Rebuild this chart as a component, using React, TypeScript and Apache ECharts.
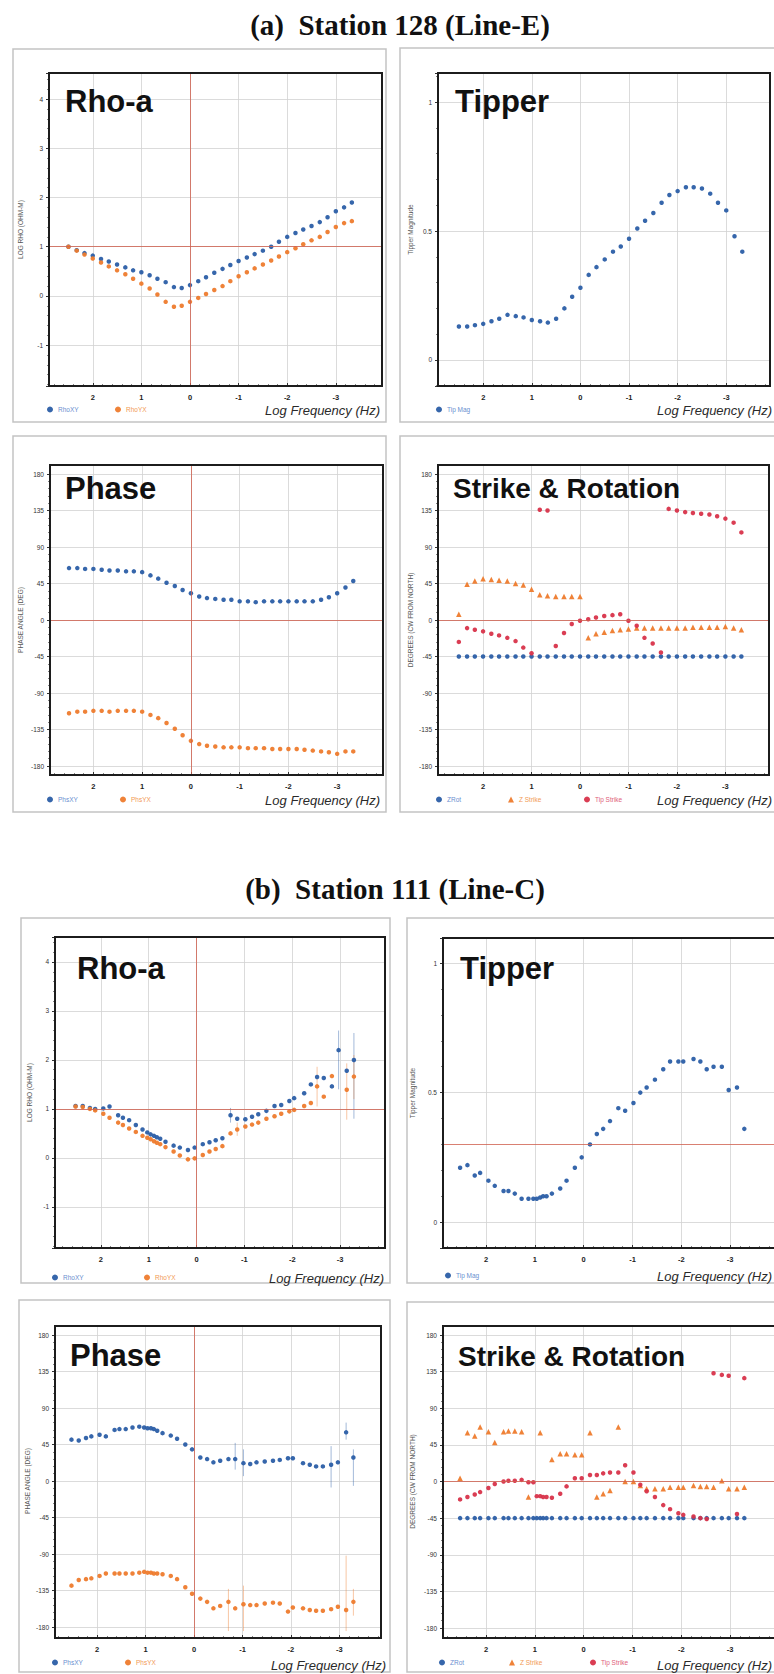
import React, { useEffect, useRef } from "react";
import * as echarts from "echarts";

const W = 774;
const H = 1674;

// ---------- Station 128 (Line-E) ----------
const logFreqA = [2.5, 2.33, 2.17, 2.0, 1.83, 1.67, 1.5, 1.33, 1.17, 1.0, 0.83, 0.67, 0.5, 0.33, 0.17, 0, -0.17, -0.33, -0.5, -0.67, -0.83, -1.0, -1.17, -1.33, -1.5, -1.67, -1.83, -2.0, -2.17, -2.33, -2.5, -2.67, -2.83, -3.0, -3.17, -3.33];
const rhoXY_A = [1.0, 0.93, 0.87, 0.82, 0.75, 0.7, 0.64, 0.58, 0.52, 0.48, 0.42, 0.35, 0.28, 0.18, 0.16, 0.22, 0.3, 0.38, 0.47, 0.55, 0.63, 0.71, 0.78, 0.85, 0.92, 1.0, 1.1, 1.2, 1.28, 1.35, 1.42, 1.5, 1.6, 1.72, 1.8, 1.9];
const rhoYX_A = [1.0, 0.92, 0.84, 0.76, 0.68, 0.6, 0.52, 0.44, 0.35, 0.25, 0.15, 0.03, -0.12, -0.22, -0.2, -0.12, -0.04, 0.04, 0.12, 0.2, 0.3, 0.4, 0.48, 0.56, 0.64, 0.72, 0.8, 0.89, 0.97, 1.05, 1.13, 1.2, 1.3, 1.4, 1.48, 1.52];
const tipMag_A = [0.13, 0.13, 0.135, 0.14, 0.15, 0.16, 0.175, 0.17, 0.165, 0.155, 0.15, 0.145, 0.16, 0.2, 0.245, 0.28, 0.33, 0.36, 0.39, 0.42, 0.44, 0.47, 0.51, 0.54, 0.57, 0.61, 0.64, 0.655, 0.67, 0.67, 0.665, 0.645, 0.61, 0.58, 0.48, 0.42];
const phsXY_A = [64, 64, 63, 63, 62, 61, 61, 60, 60, 59, 55, 51, 46, 42, 37, 33, 29, 27, 26, 25, 25, 23, 23, 22, 23, 23, 23, 23, 23, 23, 23, 25, 28, 33, 40, 48];
const phsYX_A = [-115, -113, -113, -112, -112, -113, -112, -112, -112, -113, -117, -121, -127, -134, -142, -149, -153, -155, -156, -157, -157, -157, -158, -158, -158, -159, -159, -159, -159, -160, -161, -162, -163, -165, -162, -162];
const zRot_A = [-45, -45, -45, -45, -45, -45, -45, -45, -45, -45, -45, -45, -45, -45, -45, -45, -45, -45, -45, -45, -45, -45, -45, -45, -45, -45, -45, -45, -45, -45, -45, -45, -45, -45, -45, -45];
const zStrike_A = [7, 44, 48, 51, 50, 49, 48, 45, 43, 38, 31, 30, 29, 29, 29, 29, -22, -17, -15, -13, -12, -11, -10, -10, -10, -10, -10, -10, -10, -9, -9, -9, -9, -8, -10, -12];
const tipStrike_A = [-27, -10, -12, -14, -17, -19, -22, -26, -34, -41, 136, 135, -32, -16, -5, -1, 1, 3, 5, 6, 7, -1, -7, -22, -29, -40, 137, 135, 133, 132, 131, 130, 128, 125, 120, 108];

// ---------- Station 111 (Line-C) ----------
const logFreqB = [2.53, 2.38, 2.23, 2.12, 1.95, 1.82, 1.64, 1.54, 1.41, 1.27, 1.13, 1.03, 0.96, 0.89, 0.83, 0.76, 0.65, 0.48, 0.35, 0.18, 0.04, -0.13, -0.27, -0.4, -0.54, -0.71, -0.85, -1.02, -1.16, -1.29, -1.46, -1.63, -1.77, -1.94, -2.04, -2.25, -2.39, -2.52, -2.66, -2.83, -2.97, -3.14, -3.29];
const rhoXY_B = [1.06, 1.06, 1.02, 1.0, 1.01, 1.05, 0.87, 0.82, 0.77, 0.67, 0.58, 0.52, 0.48, 0.45, 0.42, 0.39, 0.33, 0.25, 0.21, 0.16, 0.21, 0.28, 0.32, 0.36, 0.4, 0.87, 0.8, 0.79, 0.84, 0.89, 0.96, 1.06, 1.08, 1.16, 1.22, 1.32, 1.5, 1.65, 1.63, 1.46, 2.2, 1.78, 2.0];
const rhoYX_B = [1.05, 1.04, 1.0, 0.97, 0.9, 0.82, 0.72, 0.67, 0.6, 0.53, 0.45, 0.41, 0.38, 0.34, 0.31, 0.28, 0.22, 0.13, 0.05, -0.03, -0.01, 0.06, 0.13, 0.18, 0.24, 0.5, 0.58, 0.64, 0.68, 0.72, 0.8, 0.85, 0.9, 0.95, 0.98, 1.06, 1.12, 1.46, 1.25, 1.67, null, 1.39, 1.66];
const tipMag_B = [0.21, 0.22, 0.18, 0.19, 0.16, 0.14, 0.12, 0.12, 0.11, 0.09, 0.09, 0.09, 0.09, 0.095, 0.1, 0.1, 0.11, 0.13, 0.16, 0.21, 0.25, 0.3, 0.34, 0.36, 0.39, 0.44, 0.43, 0.46, 0.5, 0.52, 0.55, 0.59, 0.62, 0.62, 0.62, 0.63, 0.62, 0.59, 0.6, 0.6, 0.51, 0.52, 0.36];
const phsXY_B = [51, 50, 53, 55, 57, 55, 63, 64, 64, 66, 67, 66, 65, 65, 64, 62, 59, 56, 52, 45, 39, 29, 27, 23, 25, 27, 27, 22, 21, 23, 24, 25, 26, 28, 28, 22, 20, 18, 18, 20, 23, 60, 29];
const phsYX_B = [-129, -122, -121, -120, -117, -114, -114, -114, -114, -114, -113, -112, -113, -113, -114, -114, -115, -117, -121, -131, -139, -145, -149, -157, -154, -149, -157, -152, -153, -153, -151, -150, -151, -161, -156, -157, -159, -160, -160, -158, -155, -159, -149];
const zRot_B = [-45, -45, -45, -45, -45, -45, -45, -45, -45, -45, -45, -45, -45, -45, -45, -45, -45, -45, -45, -45, -45, -45, -45, -45, -45, -45, -45, -45, -45, -45, -45, -45, -45, -45, -45, -45, -45, -45, -45, -45, -45, -45, -45];
const zStrike_B = [4, 60, 56, 67, 61, 48, 61, 62, 62, 61, -19, null, null, 60, null, null, 27, 34, 34, 33, 33, 60, -19, -15, -11, 67, 0, 0, -5, -9, -9, -9, -7, -7, -7, -5, -6, -6, -7, 1, -9, -9, -7];
const tipStrike_B = [-22, -19, -16, -13, -8, -3, 0, 1, 1, 2, -1, -1, -18, -18, -19, -19, -20, -15, -6, 4, 4, 8, 8, 10, 11, 11, 20, 11, -4, -12, -19, -29, -34, -39, -41, -43, -45, -46, 133, 131, 130, -40, 127];

// error bars: [log frequency, low, high]
const rhoErrXY_B = [[-0.71, 0.72, 1.02], [-2.97, 1.4, 2.6], [-3.29, 0.8, 2.55]];
const rhoErrYX_B = [[-0.85, 0.45, 0.72], [-2.52, 1.05, 1.86], [-3.14, 0.78, 1.93], [-3.29, 1.2, 2.1]];
const phsErrXY_B = [[-0.85, 14, 47], [-1.02, 6, 39], [-2.83, -8, 43], [-3.14, 51, 72], [-3.29, -6, 39]];
const phsErrYX_B = [[-0.71, -185, -133], [-1.02, -185, -129], [-3.14, -185, -92], [-3.29, -166, -133]];

// ---------- tick labels ----------
const freqTickLabels = [2, 1, 0, -1, -2, -3];
const rhoTickLabels = [4, 3, 2, 1, 0, -1];
const tipTickLabels = [1, 0.5, 0];
const angleTickLabels = [180, 135, 90, 45, 0, -45, -90, -135, -180];

const FONT = "'Liberation Sans', Arial, Helvetica, sans-serif";
const SERIF = "'Liberation Serif', 'Times New Roman', serif";
const BLUE = "#2b5ea7";
const ORANGE = "#ee7b2d";
const RED = "#d8334a";
const BLUE_T = "#6a8fd0";
const ORANGE_T = "#f29a55";
const RED_T = "#e0607a";
const GRID_C = "#d2d2d2";
const REF_C = "#d0604f";

const pick = (ticks: number[]) => (v: number) => {
  const t = ticks.find((k) => Math.abs(k - v) < 1e-6);
  return t === undefined ? "" : String(t);
};

type SeriesDef = { name: string; values: (number | null)[]; color: string; text: string; symbol: string; size: number; err?: number[][] };
type LegendDef = { name: string; x: number; y: number };
type PanelDef = {
  title: string; titleLeft: number; titleTop: number; titleSize: number;
  outer: number[]; frame: number[];
  xMin: number; xMax: number;
  kind: "rho" | "tip" | "angle";
  yMin?: number; yMax?: number; inset?: number[];
  yName: string; yNameGap: number; ticks: number[];
  freq: number[];
  series: SeriesDef[];
  legend: LegendDef[];
  refX?: number; refY?: number;
  freqLabel: number[];
};

const rhoSeries = (xy: (number | null)[], yx: (number | null)[], exy?: number[][], eyx?: number[][]): SeriesDef[] => [
  { name: "RhoXY", values: xy, color: BLUE, text: BLUE_T, symbol: "circle", size: 4.5, err: exy },
  { name: "RhoYX", values: yx, color: ORANGE, text: ORANGE_T, symbol: "circle", size: 4.5, err: eyx },
];
const phsSeries = (xy: number[], yx: number[], exy?: number[][], eyx?: number[][]): SeriesDef[] => [
  { name: "PhsXY", values: xy, color: BLUE, text: BLUE_T, symbol: "circle", size: 4.5, err: exy },
  { name: "PhsYX", values: yx, color: ORANGE, text: ORANGE_T, symbol: "circle", size: 4.5, err: eyx },
];
const strikeSeries = (zr: number[], zs: (number | null)[], ts: number[]): SeriesDef[] => [
  { name: "ZRot", values: zr, color: BLUE, text: BLUE_T, symbol: "circle", size: 4.5 },
  { name: "Z Strike", values: zs, color: ORANGE, text: ORANGE_T, symbol: "triangle", size: 5.5 },
  { name: "Tip Strike", values: ts, color: RED, text: RED_T, symbol: "circle", size: 4.5 },
];

const panels: PanelDef[] = [
  {
    title: "Rho-a", titleLeft: 65, titleTop: 86, titleSize: 31,
    outer: [13, 49, 373, 373], frame: [49, 73, 333, 313],
    xMin: -3.95, xMax: 2.9, kind: "rho", yMin: -1.83, yMax: 4.53,
    yName: "LOG RHO (OHM-M)", yNameGap: 25, ticks: rhoTickLabels, freq: logFreqA,
    series: rhoSeries(rhoXY_A, rhoYX_A),
    legend: [{ name: "RhoXY", x: 50, y: 410 }, { name: "RhoYX", x: 118, y: 410 }],
    refX: 0, refY: 1, freqLabel: [380, 410],
  },
  {
    title: "Tipper", titleLeft: 455, titleTop: 86, titleSize: 31,
    outer: [400, 48, 400, 374], frame: [438, 73, 332, 313],
    xMin: -3.9, xMax: 2.93, kind: "tip", yMin: -0.101, yMax: 1.113,
    yName: "Tipper Magnitude", yNameGap: 24, ticks: tipTickLabels, freq: logFreqA,
    series: [{ name: "Tip Mag", values: tipMag_A, color: BLUE, text: BLUE_T, symbol: "circle", size: 4.5 }],
    legend: [{ name: "Tip Mag", x: 439, y: 410 }],
    freqLabel: [772, 410],
  },
  {
    title: "Phase", titleLeft: 65, titleTop: 473, titleSize: 31,
    outer: [13, 436, 373, 376], frame: [50, 465, 333, 310],
    xMin: -3.94, xMax: 2.89, kind: "angle", inset: [9, 9],
    yName: "PHASE ANGLE (DEG)", yNameGap: 26, ticks: angleTickLabels, freq: logFreqA,
    series: phsSeries(phsXY_A, phsYX_A),
    legend: [{ name: "PhsXY", x: 50, y: 800 }, { name: "PhsYX", x: 123, y: 800 }],
    refX: 0, refY: 0, freqLabel: [380, 800],
  },
  {
    title: "Strike & Rotation", titleLeft: 453, titleTop: 474, titleSize: 28,
    outer: [400, 436, 400, 376], frame: [438, 465, 331, 310],
    xMin: -3.9, xMax: 2.93, kind: "angle", inset: [9, 9],
    yName: "DEGREES (CW FROM NORTH)", yNameGap: 24, ticks: angleTickLabels, freq: logFreqA,
    series: strikeSeries(zRot_A, zStrike_A, tipStrike_A),
    legend: [{ name: "ZRot", x: 439, y: 800 }, { name: "Z Strike", x: 511, y: 800 }, { name: "Tip Strike", x: 587, y: 800 }],
    refY: 0, freqLabel: [772, 800],
  },
  {
    title: "Rho-a", titleLeft: 77, titleTop: 953, titleSize: 31,
    outer: [21, 918, 369, 365], frame: [55, 937, 330, 311],
    xMin: -3.94, xMax: 2.96, kind: "rho", yMin: -1.84, yMax: 4.51,
    yName: "LOG RHO (OHM-M)", yNameGap: 22, ticks: rhoTickLabels, freq: logFreqB,
    series: rhoSeries(rhoXY_B, rhoYX_B, rhoErrXY_B, rhoErrYX_B),
    legend: [{ name: "RhoXY", x: 55, y: 1278 }, { name: "RhoYX", x: 147, y: 1278 }],
    refX: 0, refY: 1, freqLabel: [384, 1278],
  },
  {
    title: "Tipper", titleLeft: 460, titleTop: 953, titleSize: 31,
    outer: [407, 918, 400, 365], frame: [443, 938, 335, 310],
    xMin: -3.98, xMax: 2.88, kind: "tip", yMin: -0.1, yMax: 1.097,
    yName: "Tipper Magnitude", yNameGap: 27, ticks: tipTickLabels, freq: logFreqB,
    series: [{ name: "Tip Mag", values: tipMag_B, color: BLUE, text: BLUE_T, symbol: "circle", size: 4.5 }],
    legend: [{ name: "Tip Mag", x: 448, y: 1276 }],
    refY: 0.3, freqLabel: [772, 1276],
  },
  {
    title: "Phase", titleLeft: 70, titleTop: 1340, titleSize: 31,
    outer: [19, 1300, 371, 372], frame: [55, 1326, 326, 312],
    xMin: -3.86, xMax: 2.87, kind: "angle", inset: [9, 11],
    yName: "PHASE ANGLE (DEG)", yNameGap: 24, ticks: angleTickLabels, freq: logFreqB,
    series: phsSeries(phsXY_B, phsYX_B, phsErrXY_B, phsErrYX_B),
    legend: [{ name: "PhsXY", x: 55, y: 1663 }, { name: "PhsYX", x: 128, y: 1663 }],
    refX: 0, freqLabel: [386, 1665],
  },
  {
    title: "Strike & Rotation", titleLeft: 458, titleTop: 1342, titleSize: 28,
    outer: [407, 1302, 400, 370], frame: [443, 1326, 335, 312],
    xMin: -3.98, xMax: 2.88, kind: "angle", inset: [9, 10],
    yName: "DEGREES (CW FROM NORTH)", yNameGap: 27, ticks: angleTickLabels, freq: logFreqB,
    series: strikeSeries(zRot_B, zStrike_B, tipStrike_B),
    legend: [{ name: "ZRot", x: 442, y: 1663 }, { name: "Z Strike", x: 512, y: 1663 }, { name: "Tip Strike", x: 593, y: 1663 }],
    refY: 0, freqLabel: [772, 1665],
  },
];

const refLine = (data: any[]) => ({
  silent: true,
  symbol: ["none", "none"],
  label: { show: false },
  emphasis: { disabled: true },
  lineStyle: { color: REF_C, width: 1, type: "solid", opacity: 0.8 },
  data,
});

function buildOption() {
  const grid: any[] = [];
  const xAxis: any[] = [];
  const yAxis: any[] = [];
  const series: any[] = [];
  const legend: any[] = [];
  const title: any[] = [];
  const graphic: any[] = [];

  graphic.push({
    type: "text", x: 400, y: 25, silent: true,
    style: { text: "(a)\u00a0 Station 128 (Line-E)", fontFamily: SERIF, fontSize: 29, fontWeight: "bold", fill: "#111", align: "center", verticalAlign: "middle", textAlign: "center", textVerticalAlign: "middle" },
  });
  graphic.push({
    type: "text", x: 395, y: 889, silent: true,
    style: { text: "(b)\u00a0 Station 111 (Line-C)", fontFamily: SERIF, fontSize: 29, fontWeight: "bold", fill: "#111", align: "center", verticalAlign: "middle", textAlign: "center", textVerticalAlign: "middle" },
  });

  panels.forEach((p) => {
    const [fx, fy, fw, fh] = p.frame;

    graphic.push({
      type: "rect", silent: true, z: 0,
      shape: { x: p.outer[0], y: p.outer[1], width: p.outer[2], height: p.outer[3] },
      style: { fill: "none", stroke: "#c3c3c3", lineWidth: 1.5 },
    });
    graphic.push({
      type: "rect", silent: true, z: 60,
      shape: { x: fx, y: fy, width: fw, height: fh },
      style: { fill: "none", stroke: "#1c1c1c", lineWidth: 2 },
    });
    graphic.push({
      type: "text", silent: true, z: 60, x: p.freqLabel[0], y: p.freqLabel[1],
      style: { text: "Log Frequency (Hz)", fontFamily: FONT, fontSize: 13, fontStyle: "italic", fill: "#2a2a2a", align: "right", verticalAlign: "middle", textAlign: "right", textVerticalAlign: "middle" },
    });

    title.push({
      text: p.title, left: p.titleLeft, top: p.titleTop, padding: 0,
      textStyle: { fontFamily: FONT, fontSize: p.titleSize, fontWeight: "bold", color: "#111" },
    });

    // frame grid carrying the frequency axis and its vertical grid lines
    const gFrame = grid.length;
    grid.push({ left: fx, top: fy, width: fw, height: fh, containLabel: false, outerBoundsMode: "none" });
    const xFrame = xAxis.length;
    xAxis.push({
      type: "value", gridIndex: gFrame, position: "bottom", min: p.xMin, max: p.xMax, inverse: true, splitNumber: 7,
      axisLine: { show: false, onZero: false },
      axisTick: { show: true, inside: true, length: 3, lineStyle: { color: "#333", width: 1 } },
      minorTick: { show: true, splitNumber: 5, length: 2, lineStyle: { color: "#666", width: 0.8 } },
      splitLine: { show: true, lineStyle: { color: GRID_C, width: 0.8 } },
      minorSplitLine: { show: false },
      axisLabel: { fontFamily: FONT, color: "#222", fontSize: 7.5, fontWeight: "bold", margin: 7, formatter: pick(freqTickLabels) },
    });

    const yCfg: any = {
      type: "value",
      position: "left",
      axisLine: { show: false, onZero: false },
      axisTick: { show: true, inside: false, length: 3, lineStyle: { color: "#333", width: 1 } },
      minorTick: { show: true, splitNumber: 5, length: 2, lineStyle: { color: "#666", width: 0.8 } },
      splitLine: { show: true, lineStyle: { color: GRID_C, width: 0.8 } },
      minorSplitLine: { show: false },
      axisLabel: { fontFamily: FONT, color: "#333", fontSize: 6.5, margin: 6, formatter: pick(p.ticks) },
      name: p.yName, nameLocation: "middle", nameGap: p.yNameGap, nameRotate: 90,
      nameTextStyle: { fontFamily: FONT, fontSize: 6.5, color: "#555" },
    };

    let xData = xFrame;
    let yData: number;
    let yFrame: number;
    if (p.kind === "angle") {
      yFrame = yAxis.length;
      yAxis.push({ type: "value", gridIndex: gFrame, min: 0, max: 1, show: false, axisLine: { onZero: false } });
      const gData = grid.length;
      const ins = p.inset as number[];
      grid.push({ left: fx, top: fy + ins[0], width: fw, height: fh - ins[0] - ins[1], containLabel: false, outerBoundsMode: "none" });
      xData = xAxis.length;
      xAxis.push({ type: "value", gridIndex: gData, min: p.xMin, max: p.xMax, inverse: true, show: false, axisLine: { onZero: false } });
      yData = yAxis.length;
      yAxis.push({ ...yCfg, gridIndex: gData, min: -180, max: 180, interval: 45 });
    } else {
      yData = yAxis.length;
      yFrame = yData;
      yAxis.push({ ...yCfg, gridIndex: gFrame, min: p.yMin, max: p.yMax, splitNumber: p.kind === "rho" ? 6 : 2 });
    }

    if (p.refX !== undefined) {
      series.push({
        type: "scatter", name: "refX", xAxisIndex: xFrame, yAxisIndex: yFrame,
        data: [[p.refX, p.kind === "angle" ? 0.5 : 0]], symbolSize: 0, silent: true, z: 1,
        markLine: refLine([{ xAxis: p.refX }]),
      });
    }
    if (p.refY !== undefined) {
      series.push({
        type: "scatter", name: "refY", xAxisIndex: xData, yAxisIndex: yData,
        data: [[0, p.refY]], symbolSize: 0, silent: true, z: 1,
        markLine: refLine([{ yAxis: p.refY }]),
      });
    }

    p.series.forEach((s) => {
      if (s.err) {
        const color = s.color;
        series.push({
          type: "custom", name: s.name + " error", xAxisIndex: xData, yAxisIndex: yData,
          silent: true, z: 2, data: s.err, encode: { x: 0, y: [1, 2] },
          renderItem: (_params: any, api: any) => {
            const a = api.coord([api.value(0), api.value(1)]);
            const b = api.coord([api.value(0), api.value(2)]);
            return {
              type: "line",
              shape: { x1: a[0], y1: a[1], x2: b[0], y2: b[1] },
              style: { stroke: color, lineWidth: 0.8, opacity: 0.55 },
            };
          },
        });
      }
      const data = p.freq
        .map((f, i) => [f, s.values[i]])
        .filter((d) => d[1] !== null && d[1] !== undefined);
      series.push({
        type: "scatter", name: s.name, xAxisIndex: xData, yAxisIndex: yData,
        data, symbol: s.symbol, symbolSize: s.size, silent: true, z: 3,
        itemStyle: { color: s.color, opacity: 0.95 },
      });
    });

    p.legend.forEach((it) => {
      const sd = p.series.find((s) => s.name === it.name) as SeriesDef;
      legend.push({
        left: it.x - 3, top: it.y - 4, padding: 0, itemWidth: 6, itemHeight: 6, itemGap: 0,
        selectedMode: false,
        textStyle: { fontFamily: FONT, fontSize: 6.5 },
        data: [{ name: it.name, icon: sd.symbol === "triangle" ? "triangle" : "circle", textStyle: { color: sd.text } }],
      });
    });
  });

  return {
    animation: false,
    backgroundColor: "#ffffff",
    textStyle: { fontFamily: FONT },
    title,
    legend,
    grid,
    xAxis,
    yAxis,
    series,
    graphic: { elements: graphic },
  };
}

export default function App() {
  const ref = useRef<HTMLDivElement>(null);
  useEffect(() => {
    document.body.style.margin = "0";
    const el = ref.current as HTMLDivElement;
    const chart = echarts.init(el, null, { renderer: "svg", width: W, height: H });
    chart.setOption(buildOption() as any);
    return () => {
      chart.dispose();
    };
  }, []);
  return <div ref={ref} style={{ width: W, height: H }} />;
}
